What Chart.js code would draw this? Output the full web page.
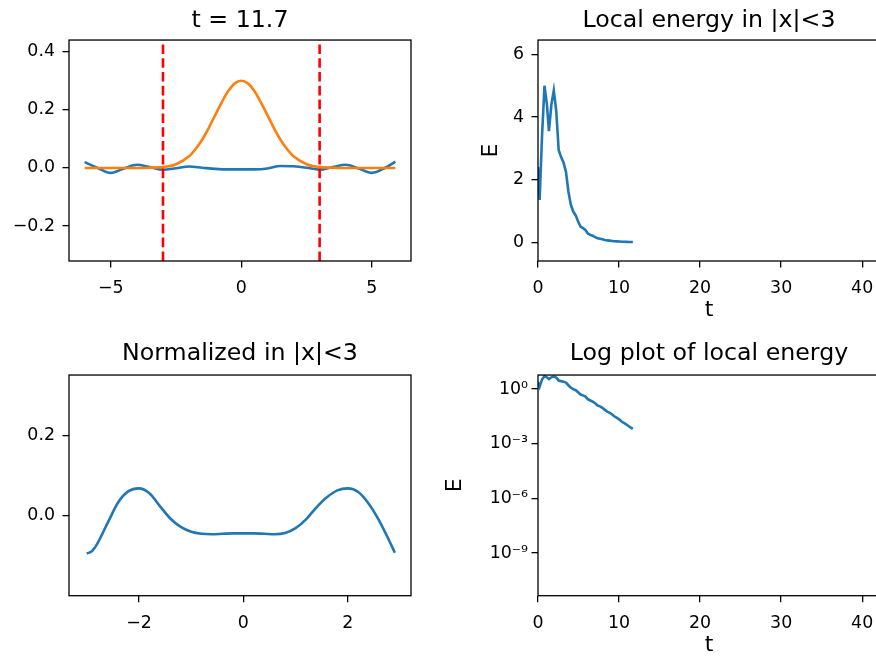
<!DOCTYPE html>
<html>
<head>
<meta charset="utf-8">
<script src="https://cdn.jsdelivr.net/npm/chart.js@4.4.1/dist/chart.umd.min.js"></script>
<style>
  html, body { margin: 0; padding: 0; background: #fff; overflow: hidden; }
  #fig { position: relative; width: 876px; height: 656px; overflow: hidden; background: #fff; }
  .panel { position: absolute; }
</style>
</head>
<body>
<div id="fig">
  <div class="panel" style="left:0;top:0;width:438px;height:328px"><canvas id="snap"></canvas></div>
  <div class="panel" style="left:438px;top:0;width:450px;height:328px"><canvas id="energy"></canvas></div>
  <div class="panel" style="left:0;top:328px;width:438px;height:328px"><canvas id="norm"></canvas></div>
  <div class="panel" style="left:438px;top:328px;width:450px;height:328px"><canvas id="logE"></canvas></div>
</div>
<script>
// snapshot at t = 11.7 over the whole domain
const waveX = [-6, -5.5, -5, -4.5, -4, -3.5, -3, -2.5, -2, -1.5, -1, -0.5, 0, 0.5, 1, 1.5, 2, 2.5, 3, 3.5, 4, 4.5, 5, 5.5, 5.9];
const waveY = [0.02, 0.0, -0.017, -0.002, 0.011, 0.003, -0.006, -0.001, 0.005, 0.001, -0.003, -0.005, -0.005, -0.005, -0.002, 0.007, 0.006, 0.001, -0.006, 0.003, 0.011, -0.002, -0.017, 0.0, 0.022];
const bumpX = [-6, -5, -4, -3.5, -3, -2.5, -2, -1.75, -1.5, -1.25, -1, -0.75, -0.5, -0.25, 0, 0.25, 0.5, 0.75, 1, 1.25, 1.5, 1.75, 2, 2.5, 3, 3.5, 4, 5, 5.9];
const bumpY = [0, 0, 0, 0.001, 0.003, 0.013, 0.040, 0.065, 0.097, 0.137, 0.182, 0.226, 0.265, 0.291, 0.300, 0.291, 0.265, 0.226, 0.182, 0.137, 0.097, 0.065, 0.040, 0.013, 0.003, 0.001, 0, 0, 0];
const boundaryX = [-3, 3];

// normalized profile inside |x|<3
const normX = [-3, -2.9, -2.8, -2.6, -2.4, -2.2, -2, -1.8, -1.6, -1.4, -1.2, -1, -0.8, -0.6, -0.4, -0.2, 0, 0.2, 0.4, 0.6, 0.8, 1, 1.2, 1.4, 1.6, 1.8, 2, 2.2, 2.4, 2.6, 2.8, 2.9];
const normY = [-0.094, -0.088, -0.07, -0.018, 0.033, 0.061, 0.068, 0.056, 0.024, -0.007, -0.028, -0.040, -0.045, -0.046, -0.045, -0.044, -0.044, -0.044, -0.045, -0.046, -0.043, -0.031, -0.009, 0.021, 0.046, 0.063, 0.068, 0.059, 0.03, -0.012, -0.064, -0.092];

// local energy history
const timeT = [0, 0.2, 0.5, 0.8, 1.1, 1.35, 1.65, 1.95, 2.25, 2.55, 2.85, 3.15, 3.45, 3.75, 4.05, 4.35, 4.65, 4.95, 5.25, 5.55, 5.85, 6.15, 6.45, 6.75, 7.05, 7.35, 7.65, 7.95, 8.25, 8.55, 8.85, 9.15, 9.45, 9.75, 10.05, 10.35, 10.65, 10.95, 11.25, 11.55, 11.7];
const energyE = [2.4, 1.35, 3.4, 5.0, 4.4, 3.55, 4.4, 4.85, 4.2, 2.95, 2.72, 2.55, 2.25, 1.62, 1.2, 0.98, 0.86, 0.66, 0.5, 0.45, 0.39, 0.28, 0.235, 0.205, 0.165, 0.125, 0.112, 0.093, 0.072, 0.058, 0.05, 0.04, 0.031, 0.026, 0.021, 0.016, 0.0135, 0.011, 0.0088, 0.0072, 0.0065];

const logTicks = [1e-9, 1e-6, 1e-3, 1];

const FONT = "'DejaVu Sans', sans-serif";
const BLUE = '#1f77b4', ORANGE = '#ff7f0e', RED = '#ff0000';

const minus = s => String(s).replace('-', '\u2212');
const SUP = {'-': '\u207B', '0': '\u2070', '1': '\u00B9', '2': '\u00B2', '3': '\u00B3', '4': '\u2074',
             '5': '\u2075', '6': '\u2076', '7': '\u2077', '8': '\u2078', '9': '\u2079'};
const pow10 = v => '10' + String(Math.round(Math.log10(v))).split('').map(c => SUP[c]).join('');

// box round the plot area, like matplotlib spines
const framePlugin = {
    id: 'frame',
    afterDatasetsDraw(chart) {
        const a = chart.chartArea, ctx = chart.ctx;
        ctx.save();
        ctx.strokeStyle = '#000';
        ctx.lineWidth = 1.3;
        ctx.strokeRect(a.left, a.top, a.right - a.left, a.bottom - a.top);
        ctx.restore();
    }
};

function line(xs, ys, color, extra) {
    return Object.assign({
        data: xs.map((x, i) => ({x: x, y: ys[i]})),
        borderColor: color,
        borderWidth: 2.6,
        pointRadius: 0,
        fill: false,
        cubicInterpolationMode: 'monotone'
    }, extra || {});
}

function vline(x, lo, hi) {
    return {
        data: [{x: x, y: lo}, {x: x, y: hi}],
        borderColor: RED, borderWidth: 2.6, borderDash: [9.6, 4.2],
        pointRadius: 0, fill: false, tension: 0
    };
}

function axis(o) {
    const s = {
        type: o.type || 'linear',
        min: o.min, max: o.max,
        border: {display: false},
        grid: {drawOnChartArea: false, drawTicks: true, tickLength: 6.5, color: '#000', lineWidth: 1.3},
        ticks: {
            stepSize: o.step, includeBounds: false, autoSkip: false, maxRotation: 0,
            color: '#000', padding: o.pad, font: {family: FONT, size: 17.4},
            callback: o.fmt
        },
        title: o.title ? {display: true, text: o.title, color: '#000',
                          font: {family: FONT, size: 22, lineHeight: 1}, padding: o.titlePad}
                       : {display: false},
        afterFit: sc => { if (sc.isHorizontal()) sc.height = o.size; else sc.width = o.size; }
    };
    if (o.ticksAt) s.afterBuildTicks = sc => { sc.ticks = o.ticksAt.map(v => ({value: v})); };
    return s;
}

function makeChart(id, datasets, title, titlePad, padRight, x, y) {
    return new Chart(document.getElementById(id), {
        type: 'line',
        data: {datasets: datasets},
        options: {
            responsive: true, maintainAspectRatio: false, animation: false,
            layout: {padding: {left: 0, right: padRight, top: 0, bottom: 0}},
            plugins: {
                legend: {display: false},
                tooltip: {enabled: false},
                title: {display: true, text: title, fullSize: false, color: '#000',
                        font: {family: FONT, size: 23.7, weight: 'normal', lineHeight: 1.2},
                        padding: titlePad}
            },
            scales: {x: x, y: y}
        },
        plugins: [framePlugin]
    });
}

const fmtInt = v => minus(v);
const fmt1 = v => minus(v.toFixed(1));
const XPAD = 10.5;

// top left: wave and bump at t = 11.7
const snapLo = -0.32, snapHi = 0.44;
makeChart('snap',
    [vline(boundaryX[0], snapLo, snapHi), vline(boundaryX[1], snapLo, snapHi),
     line(bumpX, bumpY, ORANGE), line(waveX, waveY, BLUE)],
    't = 11.7', {top: 6.3, bottom: 5.3}, 27,
    axis({min: -6.6, max: 6.5, step: 5, size: 67, pad: XPAD, fmt: fmtInt}),
    axis({min: snapLo, max: snapHi, step: 0.2, size: 69, pad: 7.5, fmt: fmt1}));

// top right: local energy
makeChart('energy',
    [line(timeT, energyE, BLUE, {cubicInterpolationMode: 'default', tension: 0})],
    'Local energy in |x|<3', {top: 6.3, bottom: 5.3}, 8,
    axis({min: 0, max: 42.2, step: 10, size: 67, pad: XPAD, fmt: fmtInt, title: 't', titlePad: {top: 0, bottom: 6.4}}),
    axis({min: -0.6, max: 6.46, step: 2, size: 100, pad: 7.5, fmt: fmtInt, title: 'E', titlePad: {top: 42.3, bottom: 0}}));

// bottom left: normalized profile
makeChart('norm',
    [line(normX, normY, BLUE)],
    'Normalized in |x|<3', {top: 11.4, bottom: 7.2}, 27,
    axis({min: -3.34, max: 3.21, step: 2, size: 60.3, pad: XPAD, fmt: fmtInt}),
    axis({min: -0.199, max: 0.35, step: 0.2, size: 69, pad: 7.5, fmt: fmt1}));

// bottom right: same energy on a log axis
makeChart('logE',
    [line(timeT, energyE, BLUE, {cubicInterpolationMode: 'default', tension: 0})],
    'Log plot of local energy', {top: 11.4, bottom: 7.2}, 8,
    axis({min: 0, max: 42.2, step: 10, size: 60.3, pad: XPAD, fmt: fmtInt, title: 't', titlePad: {top: 0, bottom: 0}}),
    axis({type: 'logarithmic', min: 4.6e-12, max: 5.86, ticksAt: logTicks, size: 100, pad: 3.5, fmt: pow10,
          title: 'E', titlePad: {top: 6.5, bottom: 0}}));
</script>
</body>
</html>
